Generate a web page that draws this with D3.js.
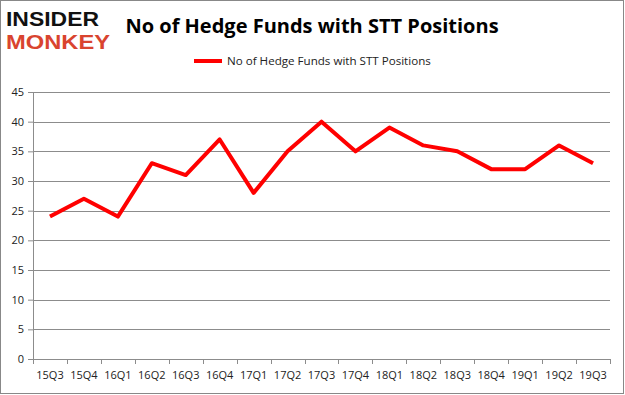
<!DOCTYPE html>
<html>
<head>
<meta charset="utf-8">
<script src="https://cdn.jsdelivr.net/npm/d3@7"></script>
<style>
  body { margin: 0; background: #fff; }
  svg { display: block; font-family: "Open Sans", "DejaVu Sans", sans-serif; }
</style>
</head>
<body>
<div id="chart"></div>
<script>
// quarters and hedge fund counts
var quarters = ["15Q3","15Q4","16Q1","16Q2","16Q3","16Q4","17Q1","17Q2","17Q3","17Q4","18Q1","18Q2","18Q3","18Q4","19Q1","19Q2","19Q3"];
var funds = [24, 27, 24, 33, 31, 37, 28, 35, 40, 35, 39, 36, 35, 32, 32, 36, 33];
var yTicks = [0, 5, 10, 15, 20, 25, 30, 35, 40, 45];
var seriesName = "No of Hedge Funds with STT Positions";

var W = 625, H = 395;
var margin = {top: 92, right: 15, bottom: 36, left: 33};
var width = W - margin.left - margin.right,
    height = H - margin.top - margin.bottom;

var svg = d3.select("#chart").append("svg")
  .attr("width", W)
  .attr("height", H);

// outer frame
svg.append("rect")
  .attr("x", 0.5).attr("y", 0.5)
  .attr("width", W - 2).attr("height", H - 2)
  .attr("fill", "none")
  .attr("stroke", "#888");

// logo
svg.append("text")
  .attr("x", 6).attr("y", 26)
  .attr("font-family", "Liberation Sans")
  .attr("font-weight", "bold")
  .attr("font-size", 20)
  .attr("textLength", 93)
  .attr("lengthAdjust", "spacingAndGlyphs")
  .attr("fill", "#111")
  .text("INSIDER");
svg.append("text")
  .attr("x", 6).attr("y", 48.5)
  .attr("font-family", "Liberation Sans")
  .attr("font-weight", "bold")
  .attr("font-size", 20)
  .attr("textLength", 104)
  .attr("lengthAdjust", "spacingAndGlyphs")
  .attr("fill", "#d9442f")
  .text("MONKEY");

// title
svg.append("text")
  .attr("x", 312).attr("y", 33)
  .attr("text-anchor", "middle")
  .attr("font-weight", "bold")
  .attr("font-size", 20)
  .attr("fill", "#000")
  .text("No of Hedge Funds with STT Positions");

// legend
svg.append("line")
  .attr("x1", 194).attr("x2", 222)
  .attr("y1", 61).attr("y2", 61)
  .attr("stroke", "#ff0000")
  .attr("stroke-width", 4);
svg.append("text")
  .attr("x", 227).attr("y", 65)
  .attr("font-size", 11.6)
  .attr("fill", "#222")
  .text(seriesName);

var g = svg.append("g")
  .attr("transform", "translate(" + margin.left + "," + margin.top + ")");

var x = d3.scaleBand()
  .domain(quarters)
  .range([0, width]);

var y = d3.scaleLinear()
  .domain([0, 45])
  .range([height, 0]);

// gridlines
g.selectAll(".grid")
  .data(yTicks.filter(function(d){ return d > 0; }))
  .enter().append("line")
  .attr("x1", 0).attr("x2", width)
  .attr("y1", function(d){ return Math.round(y(d)) + 0.5; })
  .attr("y2", function(d){ return Math.round(y(d)) + 0.5; })
  .attr("stroke", "#8c8c8c")
  .attr("stroke-width", 1);

// y axis
var yAxis = g.append("g")
  .call(d3.axisLeft(y).tickValues(yTicks).tickSize(5).tickPadding(4));
yAxis.select(".domain").attr("stroke", "#8c8c8c");
yAxis.selectAll(".tick line").attr("stroke", "#8c8c8c");
yAxis.selectAll("text").attr("font-size", 11).attr("fill", "#222")
  .attr("font-family", "Open Sans, DejaVu Sans, sans-serif");

// x axis
var xAxis = g.append("g")
  .attr("transform", "translate(0," + height + ")")
  .call(d3.axisBottom(x).tickSize(0).tickPadding(12));
xAxis.select(".domain").attr("stroke", "#8c8c8c");
xAxis.selectAll("text").attr("font-size", 11).attr("fill", "#222")
  .attr("font-family", "Open Sans, DejaVu Sans, sans-serif");

// category boundary ticks
var bounds = quarters.map(function(q){ return x(q); }).concat([width]);
g.selectAll(".xb")
  .data(bounds)
  .enter().append("line")
  .attr("x1", function(d){ return Math.round(d) + 0.5; })
  .attr("x2", function(d){ return Math.round(d) + 0.5; })
  .attr("y1", height).attr("y2", height + 5)
  .attr("stroke", "#8c8c8c");

// line
var line = d3.line()
  .x(function(d, i){ return x(quarters[i]) + x.bandwidth() / 2; })
  .y(function(d){ return y(d); });

g.append("path")
  .datum(funds)
  .attr("d", line)
  .attr("fill", "none")
  .attr("stroke", "#ff0000")
  .attr("stroke-width", 4)
  .attr("stroke-linejoin", "round");
</script>
</body>
</html>
